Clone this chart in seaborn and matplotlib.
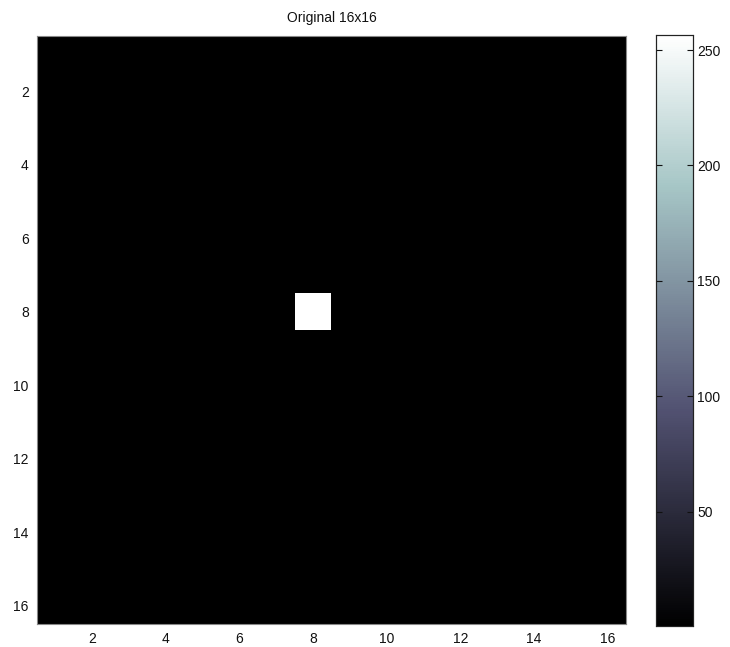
import numpy as np
import pandas as pd
import matplotlib
matplotlib.use("Agg")
import matplotlib.pyplot as plt
import seaborn as sns

# Data: 16x16 image, background value 1, single bright pixel at row 8, col 8
n_rows = 16
n_cols = 16
background_value = 1
peak_value = 256
peak_row = 8
peak_col = 8
color_limits = [0.5, 256.5]
axis_ticks = [2, 4, 6, 8, 10, 12, 14, 16]
cbar_ticks = [50, 100, 150, 200, 250]
title_text = "Original 16x16"

img = np.full((n_rows, n_cols), background_value, dtype=float)
img[peak_row - 1, peak_col - 1] = peak_value
df = pd.DataFrame(img, index=range(1, n_rows + 1), columns=range(1, n_cols + 1))

sns.set_style("white")
plt.rcParams['font.family'] = ['Liberation Sans Narrow', 'Liberation Sans', 'DejaVu Sans']
plt.rcParams['axes.axisbelow'] = False

W, H = 730, 647
fig = plt.figure(figsize=(W / 100, H / 100), dpi=100)
ax = fig.add_axes([37 / W, 1 - 624 / H, (626 - 37) / W, (624 - 36) / H])
cax = fig.add_axes([656 / W, 1 - 626 / H, (693 - 656) / W, (626 - 35) / H])

sns.heatmap(df, ax=ax, cmap="bone", vmin=color_limits[0], vmax=color_limits[1],
            cbar=True, cbar_ax=cax, square=False, xticklabels=False, yticklabels=False)

ax.set_xticks([t - 0.5 for t in axis_ticks])
ax.set_xticklabels([str(t) for t in axis_ticks])
ax.set_yticks([t - 0.5 for t in axis_ticks])
ax.set_yticklabels([str(t) for t in axis_ticks], rotation=0)
ax.tick_params(axis='both', labelsize=10, length=0, pad=6, colors='#111111')
ax.set_xlabel("")
ax.set_ylabel("")
for s in ax.spines.values():
    s.set_visible(True)
    s.set_color('#888888')
    s.set_linewidth(0.8)
ax.set_title(title_text, fontsize=10, pad=10, color='#111111')

cax.set_axisbelow(False)
cax.set_yticks(cbar_ticks)
cax.set_yticklabels([str(t) for t in cbar_ticks])
cax.tick_params(axis='y', which='both', left=True, right=True, direction='in',
                length=4, width=0.8, labelsize=10, colors='#111111', pad=3)
for s in cax.spines.values():
    s.set_visible(True)
    s.set_color('#222222')
    s.set_linewidth(0.8)
    s.set_zorder(5)

fig.savefig("out.png", dpi=100)
